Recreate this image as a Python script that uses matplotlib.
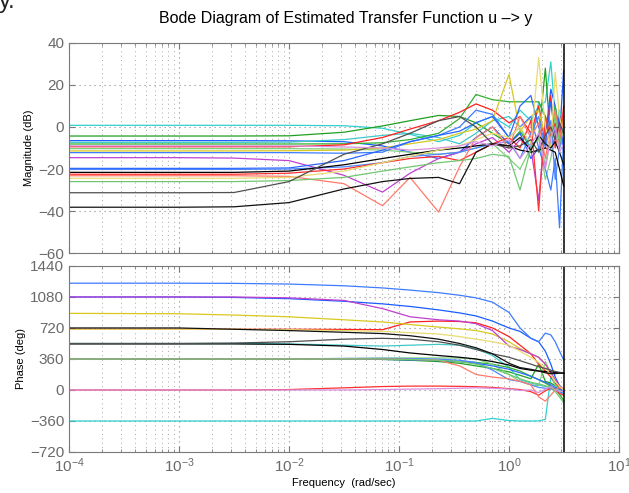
import numpy as np
import matplotlib
matplotlib.use('Agg')
import matplotlib.pyplot as plt
from matplotlib.ticker import LogLocator, NullFormatter, MultipleLocator

plt.rcParams['font.family'] = ['Liberation Sans', 'DejaVu Sans']
plt.rcParams['mathtext.fontset'] = 'custom'
plt.rcParams['mathtext.rm'] = 'Liberation Sans'
plt.rcParams['mathtext.it'] = 'Liberation Sans:italic'

# frequency points (rad/sec) shared by all estimated models
freqs = [1e-4, 1e-3, 0.00316, 0.01, 0.0316, 0.0708, 0.126, 0.229, 0.355, 0.501,
         0.708, 1.0, 1.26, 1.58, 1.86, 2.14, 2.40, 2.63, 2.88, 3.14]
nyquist = 3.14

colors = ['#30d0d0', '#20a020', '#1a5cff', '#40c8c8', '#30b030', '#ff2020', '#80d080',
          '#d8c820', '#3d7bff', '#c040d0', '#2a66ff', '#4f86ff', '#000000', '#ff3030',
          '#ff7a6a', '#e8dc70', '#70c870', '#505050', '#111111', '#d890e0']

mag_db = [
    [0.8, 0.8, 0.8, 0.8, 0.6, -0.6, -3.5, -7, -4, 2, 5, 0, 8, 3, 10, 12, 31, 5, 0, 3],
    [-4.3, -4.3, -4.3, -4.2, -2.5, 0.5, 3, 5.5, 5, 2, -3, -8, -2, -10, -5, 28, -8, 0, 5, 2],
    [-6.5, -6.5, -6.5, -6.6, -7, -9, -12, -15, -12, -5, 0, -8, -3, -15, -10, -5, 18, 10, -5, 27],
    [-7.3, -7.3, -7.3, -7.2, -6, -4, -3, -5, -8, -3, 3, 5, 0, -10, 12, 5, -3, 0, 8, 2],
    [-8.1, -8.1, -8.1, -8.1, -8, -7.5, -6, -3, 4, 15.5, 13, 12, 12, 12, 12, 5, -5, 10, -3, 0],
    [-9.4, -9.4, -9.4, -9.4, -8.5, -5, -1, 3, 7, 11, 8, 2, 5, -3, 10, -8, 15, -10, 5, 0],
    [-10.3, -10.3, -10.3, -10.3, -10.5, -11, -12, -13, -12, -10, -8, -15, -20, -10, -5, -25, -15, -3, -10, -5],
    [-11.4, -11.4, -11.4, -11.3, -11, -10, -8, -6, -3, -1, 3, 25, -2, 5, 8, -5, 0, 6, -5, 5],
    [-12.2, -12.2, -12.2, -12.2, -12.5, -12, -7, -4, 0, 8, 6, -5, 0, 5, -10, -20, -30, -15, -48, -5],
    [-14.6, -14.6, -14.8, -16, -23, -31, -22, -15, -12, -8, -5, -12, -6, -10, -35, 0, -10, -5, 3, -10],
    [-19.7, -19.7, -19.7, -19.5, -16, -11, -7, -4, -2, 2, 5, -5, 10, 15, 0, -8, 12, -3, 5, -12],
    [-20.2, -20.2, -20.2, -20, -19, -17, -14, -13, -12, -10, -8, -7, -15, -3, 5, -10, 3, -25, -10, 0],
    [-21.6, -21.6, -21.6, -21, -18, -15, -13, -11, -10, -9, -8, -9, -11, -12, -11, -10, -11, -12, -20, -28],
    [-22.5, -22.5, -22.5, -22, -20, -17, -15, -14, -16, -12, -8, -5, -10, 3, -40, 5, -5, 2, -8, 10],
    [-23.2, -23.2, -23.2, -23.5, -27, -37.5, -24, -40.5, -19, -5, 0, -10, 5, -5, 2, -15, 0, 8, -5, 2],
    [-24.4, -24.4, -24.4, -24, -21, -17, -14, -11, -9, -6, -3, -5, 0, -8, 33, 0, -10, 26, 5, -5],
    [-26, -26, -26, -25.5, -24, -21, -19, -17, -16, -15, -13, -14, -30, -10, -5, -18, -5, 5, -8, 0],
    [-31.3, -31.3, -31.2, -26, -13, -8, -3, 3, 5, 0, -8, -10, -9, -6, -12, -4, 0, -6, 2, -3],
    [-38.2, -38.2, -38, -36, -29.5, -26, -24.5, -24, -27, -12, -8, -9, -5, -11, -4, -8, -10, -7, -12, -18],
    [-9, -9, -9, -9, -9.5, -10, -11, -10, -9, -7, -9, -6, -15, -8, -3, -20, -5, 0, -12, -8],
]

phase_deg = [
    [-360, -360, -360, -360, -360, -360, -360, -360, -360, -360, -330, -355, -360, -360, -360, -340, 150, 60, -20, -60],
    [360, 360, 360, 360, 360, 355, 345, 330, 310, 280, 250, 210, 170, 130, 300, 100, 80, 50, 20, 0],
    [1080, 1080, 1075, 1060, 1030, 1000, 970, 930, 895, 860, 800, 720, 680, 600, 560, 450, 300, 150, 50, 0],
    [540, 540, 540, 535, 520, 510, 520, 530, 520, 480, 400, 260, 120, 80, 60, 40, 30, 20, 10, 0],
    [360, 360, 360, 360, 360, 358, 350, 340, 330, 320, 300, 260, 220, 160, 120, 80, 40, 10, -50, -120],
    [705, 705, 705, 705, 703, 700, 790, 800, 795, 780, 720, 620, 520, 420, 300, 220, 150, 80, 30, -20],
    [360, 360, 360, 362, 365, 370, 372, 372, 370, 360, 300, 180, 100, 60, 50, 330, 200, 50, 0, -30],
    [890, 885, 870, 850, 815, 790, 760, 730, 710, 690, 650, 560, 480, 420, 380, 300, 200, 100, 40, 0],
    [1240, 1240, 1238, 1230, 1210, 1185, 1160, 1130, 1100, 1070, 1020, 900, 720, 600, 560, 660, 640, 560, 450, 350],
    [1080, 1080, 1080, 1070, 1040, 945, 850, 815, 800, 770, 690, 510, 470, 420, 380, 300, 200, 120, 50, 0],
    [360, 360, 360, 360, 358, 355, 350, 340, 330, 310, 280, 240, 200, 160, 120, 90, 60, 30, 10, -10],
    [360, 360, 360, 362, 366, 368, 365, 358, 345, 320, 230, 120, 100, 60, 30, 20, 10, 0, -20, -40],
    [535, 535, 535, 530, 510, 470, 430, 400, 380, 360, 330, 290, 250, 230, 220, 215, 210, 205, 200, 195],
    [0, 0, 0, 5, 25, 40, 45, 45, 42, 38, 30, 15, 5, -20, -60, -10, 20, 0, -40, -60],
    [360, 360, 360, 360, 360, 360, 355, 345, 280, 180, 150, 130, 100, 60, -80, -130, -60, 0, 30, 20],
    [705, 705, 705, 700, 690, 680, 665, 650, 620, 590, 560, 520, 450, 380, 320, 250, 180, 100, 40, 0],
    [360, 360, 360, 360, 360, 360, 355, 345, 330, 300, 250, 180, 130, 90, 70, 50, 20, -20, -80, -150],
    [540, 540, 545, 560, 590, 600, 590, 560, 520, 470, 420, 380, 340, 300, 270, 250, 230, 215, 205, 200],
    [720, 720, 705, 690, 670, 655, 630, 590, 540, 490, 420, 310, 260, 240, 220, 200, 190, 190, 195, 195],
    [0, 0, 0, 0, 0, 5, 10, 15, 20, 25, 20, 10, -5, 0, -30, 10, 40, 0, -20, -10],
]

fig = plt.figure(figsize=(6.29, 4.93), dpi=100)
ax_mag = fig.add_axes([0.1097, 0.4868, 0.8744, 0.426])
ax_ph = fig.add_axes([0.1097, 0.0832, 0.8744, 0.3773])

for i in range(len(mag_db)):
    ax_mag.plot(freqs, mag_db[i], color=colors[i], lw=0.9)
    ax_ph.plot(freqs, phase_deg[i], color=colors[i], lw=0.9)

gray = '#7a7a7a'
dots = (0, (1, 3.5))
for ax in (ax_mag, ax_ph):
    ax.set_xscale('log')
    ax.set_xlim(1e-4, 1e1)
    ax.axvline(nyquist, color='black', lw=1.1)
    ax.xaxis.set_major_locator(LogLocator(base=10, numticks=10))
    ax.xaxis.set_minor_locator(LogLocator(base=10, subs=np.arange(2, 10), numticks=20))
    ax.xaxis.set_minor_formatter(NullFormatter())
    ax.grid(True, which='major', axis='both', linestyle=dots, color='#8c8c8c', lw=0.8)
    ax.grid(True, which='minor', axis='x', linestyle=dots, color='#a8a8a8', lw=0.7)
    ax.set_axisbelow(True)
    for s in ax.spines.values():
        s.set_color(gray)
    ax.tick_params(which='both', direction='in', colors=gray, top=True, right=True,
                   labelsize=11, labelcolor='#6a6a6a')
    ax.tick_params(which='major', length=4)
    ax.tick_params(which='minor', length=2)

ax_mag.set_ylim(-60, 40)
ax_mag.yaxis.set_major_locator(MultipleLocator(20))
ax_mag.tick_params(labelbottom=False)
ax_mag.set_ylabel('Magnitude (dB)', fontsize=8, color='black', labelpad=3)

ax_ph.set_ylim(-720, 1440)
ax_ph.yaxis.set_major_locator(MultipleLocator(360))
ax_ph.set_ylabel('Phase (deg)', fontsize=8, color='black', labelpad=3)
ax_ph.set_xlabel('Frequency  (rad/sec)', fontsize=8, color='black', labelpad=2)

fig.text(0.55, 0.962, 'Bode Diagram of Estimated Transfer Function u \u2013> y',
         ha='center', va='center', fontsize=11.5, color='black')
fig.text(-0.002, 0.984, 'y.', ha='left', va='baseline', fontsize=17, color='#222222')

fig.savefig('out.png', dpi=100)
